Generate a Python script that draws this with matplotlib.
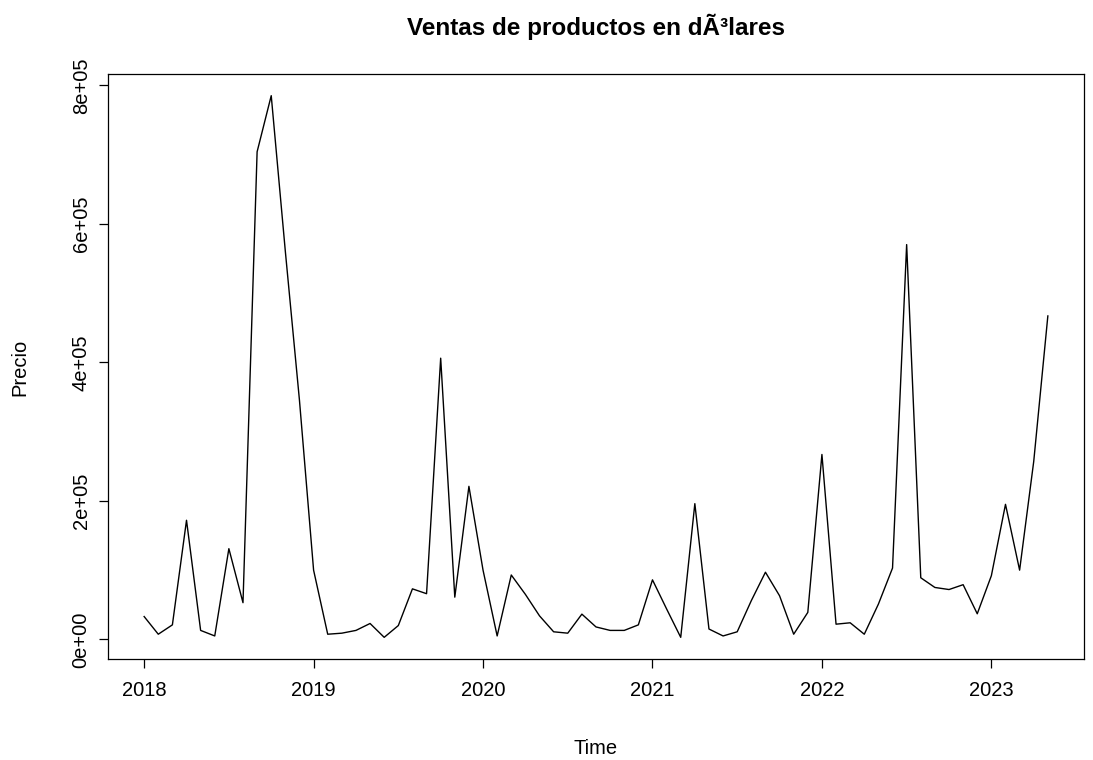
import numpy as np
import matplotlib
matplotlib.use("Agg")
import matplotlib.pyplot as plt
from matplotlib.ticker import FuncFormatter

plt.rcParams['font.family'] = ['Liberation Sans', 'DejaVu Sans']

# monthly sales, Jan 2018 - May 2023
inicio = 2018
ventas_2018 = [33000, 7500, 21000, 172000, 13000, 5000, 131000, 53000, 704000, 785000, 560000, 345000]
ventas_2019 = [100000, 7500, 9000, 13000, 23000, 3000, 20000, 73000, 66000, 406000, 61000, 221000]
ventas_2020 = [100000, 5000, 93000, 65000, 34000, 11000, 9000, 36500, 18000, 13000, 13000, 21000]
ventas_2021 = [86000, 44000, 3000, 196000, 15000, 5000, 11000, 56000, 97000, 63000, 7500, 39000]
ventas_2022 = [267000, 22000, 24000, 7500, 51000, 103000, 570000, 89000, 75000, 72000, 79000, 37000]
ventas_2023 = [92000, 195000, 100000, 257000, 467000]

ventas = np.array(ventas_2018 + ventas_2019 + ventas_2020 + ventas_2021 + ventas_2022 + ventas_2023)
tiempo = inicio + np.arange(len(ventas)) / 12

x_ticks = [2018, 2019, 2020, 2021, 2022, 2023]
y_ticks = [0, 2e5, 4e5, 6e5, 8e5]

fig = plt.figure(figsize=(10.93, 7.6), dpi=100)
ax = fig.add_axes([108 / 1093, 1 - 659 / 760, (1084 - 108) / 1093, (659 - 74) / 760])

ax.plot(tiempo, ventas, color='black', lw=1.0)

# R style 4% padding on both axes
xr = tiempo.max() - tiempo.min()
yr = ventas.max() - ventas.min()
ax.set_xlim(tiempo.min() - 0.04 * xr, tiempo.max() + 0.04 * xr)
ax.set_ylim(ventas.min() - 0.04 * yr, ventas.max() + 0.04 * yr)

ax.set_xticks(x_ticks)
ax.set_yticks(y_ticks)
ax.yaxis.set_major_formatter(FuncFormatter(lambda v, p: f"{v:.0e}"))
ax.tick_params(axis='both', direction='out', length=6.5, width=0.9, labelsize=14.5, color='black')
ax.tick_params(axis='x', pad=9)
ax.tick_params(axis='y', pad=6)
for lab in ax.get_yticklabels():
    lab.set_rotation(90)
    lab.set_va('center')

for s in ax.spines.values():
    s.set_linewidth(0.9)
    s.set_color('black')

fig.text(596 / 1093, 1 - 27 / 760, 'Ventas de productos en dÃ³lares', ha='center', va='center',
         fontsize=17.5, fontweight='bold')
fig.text(596 / 1093, 1 - 748 / 760, 'Time', ha='center', va='center', fontsize=14.5)
fig.text(20 / 1093, 1 - 367 / 760, 'Precio', ha='center', va='center', rotation=90, fontsize=14.5)

fig.savefig('out.png', dpi=100)
